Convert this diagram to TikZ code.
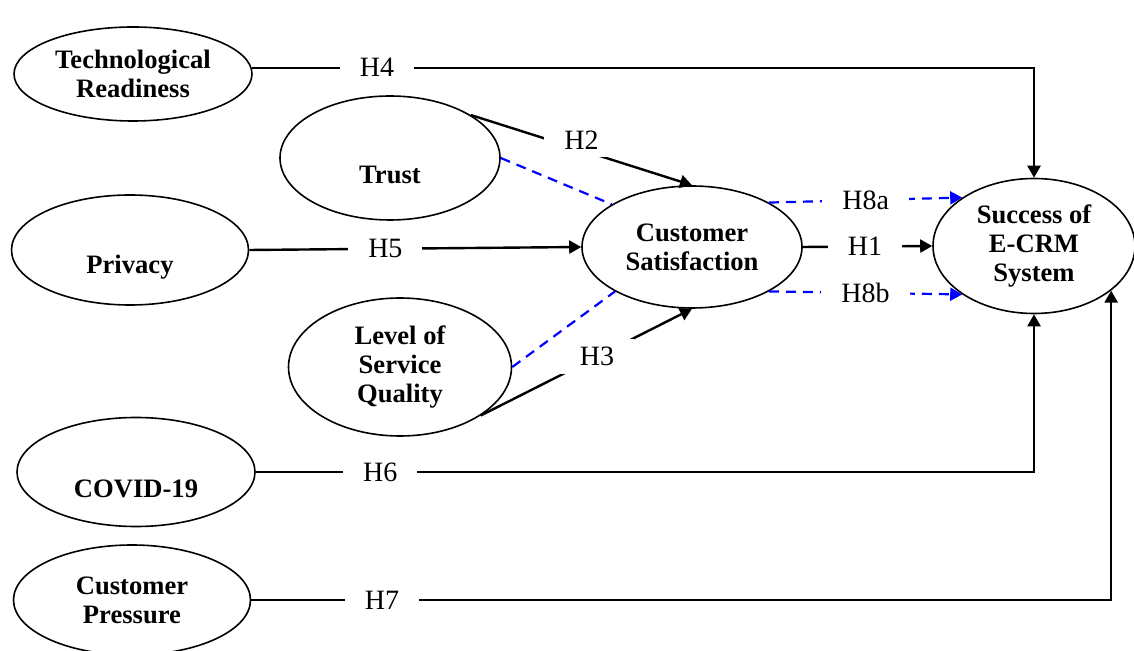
\documentclass[tikz,border=0pt]{standalone}
\usepackage{fontspec}
\setmainfont{Liberation Serif}
\usetikzlibrary{shapes.geometric,arrows.meta}

\newcommand{\diagfont}{\fontsize{13.3}{14.5}\selectfont}

\tikzset{
  latent/.style={ellipse, draw, line width=0.8pt, inner sep=0pt, align=center, font=\diagfont\bfseries},
  lowtext/.style={label={[font=\diagfont\bfseries, yshift=-8.5pt]center:#1}},
  hyp/.style={fill=white, text=black, inner xsep=10pt, inner ysep=4pt, font=\fontsize{14}{15}\selectfont},
  link/.style={line width=1.2pt, -{Triangle[length=6pt,width=6.5pt]}},
  mediation/.style={blue, line width=1.1pt, dash pattern=on 5pt off 3.5pt},
}

\begin{document}
\begin{tikzpicture}[x=0.5pt, y=-0.5pt]
  \useasboundingbox (0,0) rectangle (1134,651);

  % constructs
  \node[latent, minimum width=119pt, minimum height=47pt] (tr) at (133,74) {Technological\\Readiness};
  \node[latent, minimum width=110pt, minimum height=62pt, lowtext=Trust] (trust) at (390,158) {};
  \node[latent, minimum width=118.5pt, minimum height=55pt, lowtext=Privacy] (priv) at (130,250) {};
  \node[latent, minimum width=111.5pt, minimum height=69pt] (lsq) at (400,367) {Level of\\Service\\Quality};
  \node[latent, minimum width=119pt, minimum height=54.5pt, lowtext=COVID-19] (covid) at (136,472) {};
  \node[latent, minimum width=118.5pt, minimum height=55pt] (cp) at (132,600) {Customer\\Pressure};
  \node[latent, minimum width=110pt, minimum height=61pt] (cs) at (692,247) {Customer\\Satisfaction};
  \node[latent, minimum width=101pt, minimum height=67.5pt] (succ) at (1034,246) {Success of\\E-CRM\\System};

  % direct paths
  \draw[link] (tr.3) -| node[hyp, pos=0.08] {H4} (succ.north);
  \draw[link] (trust.28) -- node[hyp, yshift=5pt] {H2} (cs.north);
  \draw[link] (priv.east) -- node[hyp, pos=0.41] {H5} (cs.west);
  \draw[link] (lsq.-31) -- node[hyp, pos=0.55] {H3} (cs.south);
  \draw[link] (cs.east) -- node[hyp, pos=0.48] {H1} (succ.west);
  \draw[link] (covid.east) -| node[hyp, pos=0.08] {H6} (succ.south);
  \draw[link] (cp.east) -| node[hyp, pos=0.076] {H7} (succ.-30);

  % mediated paths
  \draw[mediation] (trust.east) -- (cs.152);
  \draw[mediation] (lsq.east) -- (cs.210);
  \draw[mediation, -{Triangle[length=6pt,width=6.5pt]}] (cs.30) -- node[hyp] {H8a} (succ.146);
  \draw[mediation, -{Triangle[length=6pt,width=6.5pt]}] (cs.-30) -- node[hyp] {H8b} (succ.-146);
\end{tikzpicture}
\end{document}
